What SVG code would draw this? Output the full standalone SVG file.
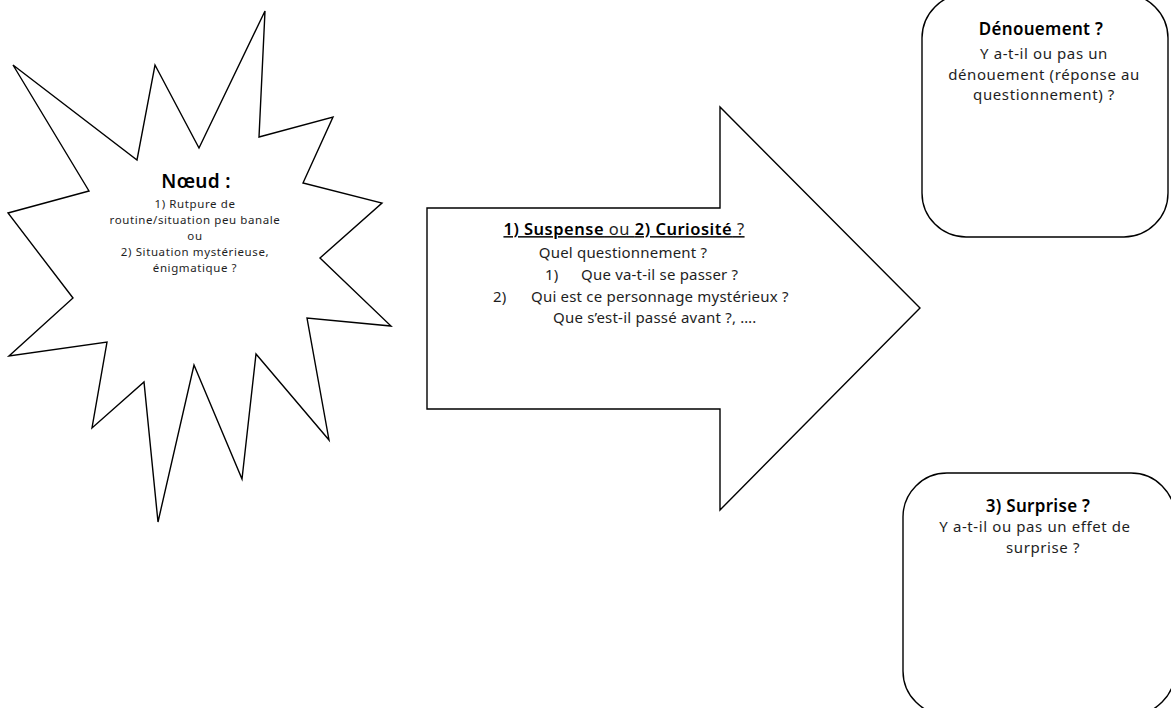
<svg xmlns="http://www.w3.org/2000/svg" width="1171" height="708" viewBox="0 0 1171 708">
  <style>
    .shape { fill: #ffffff; stroke: #000000; stroke-width: 1.4; stroke-linejoin: miter; }
    text { font-family: "Noto Sans", "Liberation Sans", sans-serif; text-anchor: middle; fill: #1e1e1e; font-variant-ligatures: none; }
    .head { font-weight: 600; fill: #000000; }
    .body { font-size: 15px; letter-spacing: 0.2px; }
    .box { font-size: 15px; letter-spacing: 0.6px; }
    .small { font-size: 11.5px; letter-spacing: 0.6px; }
    .left { text-anchor: start; }
  </style>
  <rect width="1171" height="708" fill="#ffffff"/>

  <!-- Burst: the knot of the story -->
  <g id="noeud">
    <polygon class="shape" points="13,65 137,160 155,65 199,148 265,11 259,137 333,117 303,183 382,203 320,258 391,326 307,318 329,440 256,354 242,479 194,365 158,522 144,382 92,428 107,342 9,356 73,298 8,213 89,191"/>
    <text class="head" x="196" y="188" font-size="19" letter-spacing="0.3">Nœud :</text>
    <text class="small" x="195" y="208">1) Rutpure de</text>
    <text class="small" x="195" y="224">routine/situation peu banale</text>
    <text class="small" x="195" y="240">ou</text>
    <text class="small" x="195" y="256">2) Situation mystérieuse,</text>
    <text class="small" x="195" y="272">énigmatique ?</text>
  </g>

  <!-- Block arrow: suspense or curiosity -->
  <g id="questionnement">
    <polygon class="shape" points="427,208 720,208 720,107 920,308 720,510 720,409 427,409"/>
    <text x="624" y="235" font-size="16.5" letter-spacing="0.5" text-decoration="underline"><tspan class="head">1) Suspense</tspan> ou <tspan class="head">2) Curiosité</tspan> ?</text>
    <text class="body" x="623" y="258">Quel questionnement ?</text>
    <text class="body left" x="545" y="280">1)</text>
    <text class="body left" x="581" y="280">Que va-t-il se passer ?</text>
    <text class="body left" x="493" y="302">2)</text>
    <text class="body left" x="531" y="302">Qui est ce personnage mystérieux ?</text>
    <text class="body left" x="553" y="323">Que s’est-il passé avant ?, ….</text>
  </g>

  <!-- Rounded box: resolution -->
  <g id="denouement">
    <rect class="shape" x="922" y="-6" width="246" height="243" rx="44" ry="44"/>
    <text class="head" x="1041" y="35" font-size="17" letter-spacing="0.3">Dénouement ?</text>
    <text class="box" x="1044" y="59">Y a-t-il ou pas un</text>
    <text class="box" x="1044" y="79.5">dénouement (réponse au</text>
    <text class="box" x="1044" y="100">questionnement) ?</text>
  </g>

  <!-- Rounded box: surprise -->
  <g id="surprise">
    <rect class="shape" x="903" y="473" width="272" height="242" rx="44" ry="44"/>
    <text class="head" x="1038" y="512" font-size="17" letter-spacing="0.3">3) Surprise ?</text>
    <text class="box" x="1035" y="532">Y a-t-il ou pas un effet de</text>
    <text class="box" x="1043" y="553">surprise ?</text>
  </g>

  <g id="connectors"></g>
</svg>
